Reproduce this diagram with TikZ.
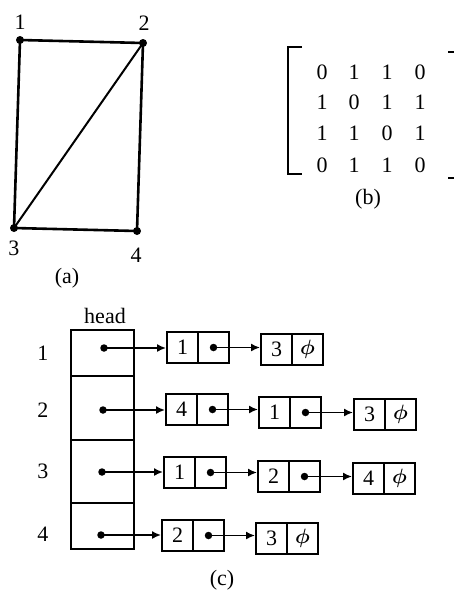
\documentclass[tikz,border=0pt]{standalone}
\usepackage{bm}
\usepackage{fontspec}
\setmainfont{Liberation Serif}
\usetikzlibrary{arrows.meta}
\tikzset{
  vtx/.style={circle,fill,inner sep=0pt,minimum size=8pt},
  txt/.style={inner sep=0pt,font=\fontsize{22}{24}\selectfont},
  edge/.style={line width=2.6pt},
  cell/.style={draw,line width=2pt,minimum width=31pt,minimum height=31pt,inner sep=0pt,font=\fontsize{22}{24}\selectfont},
  headbox/.style={draw,line width=2pt,minimum width=63pt,inner sep=0pt},
  ptr/.style={-{Latex[length=9pt,width=8pt]},line width=1.6pt},
  pdot/.style={circle,fill,inner sep=0pt,minimum size=7.5pt},
  brack/.style={line width=2.2pt}
}
\newcommand\mylnode[5]{%
  \node[cell] (#1v) at (#2+15.5,#3+15.5) {#4};
  \node[cell] (#1p) at (#2+46.5,#3+15.5) {#5};
}
\newcommand\nilsym{$\bm{\phi}$}
\begin{document}
\begin{tikzpicture}[x=1pt,y=-1pt]
\useasboundingbox (0,0) rectangle (454,590);
% (a) graph
\node[vtx] (n1) at (20,40) {};
\node[vtx] (n2) at (143,43) {};
\node[vtx] (n3) at (14,228) {};
\node[vtx] (n4) at (137,231) {};
\draw[edge] (n1.center) -- (n2.center);
\draw[edge] (n1.center) -- (n3.center);
\draw[edge,line width=2pt] (n2.center) -- (n3.center);
\draw[edge] (n2.center) -- (n4.center);
\draw[edge] (n3.center) -- (n4.center);
\node[txt] (l1) at (20,22) {1};
\node[txt] (l2) at (144,23) {2};
\node[txt] (l3) at (14,248) {3};
\node[txt] (l4) at (136,255) {4};
\node[txt] (capa) at (67,278) {(a)};
% (b) matrix
\draw[brack] (302,47) -- (288,47) -- (288,174) -- (302,174);
\draw[brack] (448,52) -- (454,52);
\draw[brack] (448,178) -- (454,178);
\foreach \r/\y/\a/\b/\c/\d in {1/72/0/1/1/0, 2/102/1/0/1/1, 3/133/1/1/0/1, 4/165/0/1/1/0}{
  \node[txt] (m\r a) at (322,\y) {\a};
  \node[txt] (m\r b) at (354,\y) {\b};
  \node[txt] (m\r c) at (387,\y) {\c};
  \node[txt] (m\r d) at (420,\y) {\d};
}
\node[txt] (capb) at (368,199) {(b)};
% (c) adjacency lists
\node[txt] (head) at (105,316) {head};
\node[headbox,minimum height=46pt] (h1) at (102.5,353) {};
\node[headbox,minimum height=64pt] (h2) at (102.5,408) {};
\node[headbox,minimum height=63pt] (h3) at (102.5,471.5) {};
\node[headbox,minimum height=46pt] (h4) at (102.5,526) {};
\node[txt] (r1) at (43,353) {1};
\node[txt] (r2) at (43,410) {2};
\node[txt] (r3) at (43,471) {3};
\node[txt] (r4) at (43,534) {4};
\node[pdot] (d1) at (104,348) {};
\node[pdot] (d2) at (103,410) {};
\node[pdot] (d3) at (102,472) {};
\node[pdot] (d4) at (101,535) {};
% row 1
\mylnode{a1}{167}{332}{1}{}
\mylnode{a2}{261}{334}{3}{\nilsym}
% row 2
\mylnode{b1}{166}{394}{4}{}
\mylnode{b2}{259}{397}{1}{}
\mylnode{b3}{354}{399}{3}{\nilsym}
% row 3
\mylnode{c1}{164}{457}{1}{}
\mylnode{c2}{258}{461}{2}{}
\mylnode{c3}{353}{463}{4}{\nilsym}
% row 4
\mylnode{e1}{162}{520}{2}{}
\mylnode{e2}{256}{523}{3}{\nilsym}
% pointer dots
\foreach \n in {a1,b1,b2,c1,c2,e1}{
  \node[pdot] (\n d) at (\n p) {};
}
% arrows
\draw[ptr] (d1.center) -- (d1.center -| a1v.west);
\draw[ptr] (d2.center) -- (d2.center -| b1v.west);
\draw[ptr] (d3.center) -- (d3.center -| c1v.west);
\draw[ptr] (d4.center) -- (d4.center -| e1v.west);
\draw[ptr] (a1d.center) -- (a1d.center -| a2v.west);
\draw[ptr] (b1d.center) -- (b1d.center -| b2v.west);
\draw[ptr] (b2d.center) -- (b2d.center -| b3v.west);
\draw[ptr] (c1d.center) -- (c1d.center -| c2v.west);
\draw[ptr] (c2d.center) -- (c2d.center -| c3v.west);
\draw[ptr] (e1d.center) -- (e1d.center -| e2v.west);
\node[txt] (capc) at (222,580) {(c)};
\end{tikzpicture}
\end{document}
